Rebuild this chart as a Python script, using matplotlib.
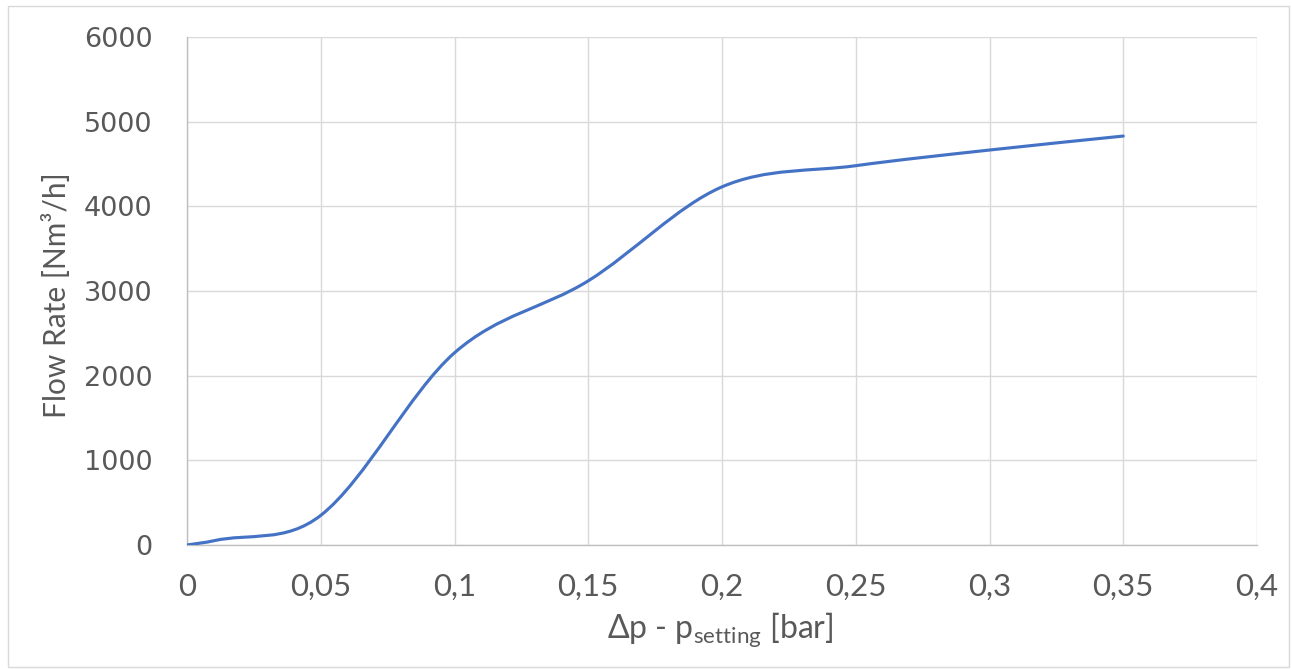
import matplotlib
matplotlib.use("Agg")
import matplotlib.pyplot as plt
from matplotlib.path import Path
from matplotlib.patches import PathPatch, Rectangle

# ---- data ----
dp = [0.0, 0.01, 0.05, 0.1, 0.15, 0.2, 0.25, 0.3, 0.35]
flow = [0, 50, 350, 2270, 3120, 4230, 4480, 4665, 4830]
x_ticks = [0, 0.05, 0.1, 0.15, 0.2, 0.25, 0.3, 0.35, 0.4]
x_tick_labels = ["0", "0,05", "0,1", "0,15", "0,2", "0,25", "0,3", "0,35", "0,4"]
y_ticks = [0, 1000, 2000, 3000, 4000, 5000, 6000]
y_tick_labels = ["0", "1000", "2000", "3000", "4000", "5000", "6000"]

plt.rcParams['mathtext.fontset'] = 'custom'
plt.rcParams['mathtext.rm'] = 'Lato'
plt.rcParams['mathtext.it'] = 'Lato:italic'

fig = plt.figure(figsize=(12.92, 6.69), dpi=100)
ax = fig.add_axes([187/1292, 1-545/669, (1257-187)/1292, (545-37)/669])

# smooth line through the points (cubic Hermite segments drawn as bezier path)
n = len(dp)
slopes = []
for i in range(n):
    a = max(i - 1, 0)
    b = min(i + 1, n - 1)
    slopes.append((flow[b] - flow[a]) / (dp[b] - dp[a]))
verts = [(dp[0], flow[0])]
codes = [Path.MOVETO]
for i in range(n - 1):
    h = dp[i+1] - dp[i]
    c1 = (dp[i] + h/3, flow[i] + slopes[i]*h/3)
    c2 = (dp[i+1] - h/3, flow[i+1] - slopes[i+1]*h/3)
    verts += [c1, c2, (dp[i+1], flow[i+1])]
    codes += [Path.CURVE4]*3
ax.add_patch(PathPatch(Path(verts, codes), facecolor='none', edgecolor='#4472C4',
                       lw=2.25, capstyle='round', zorder=3))

ax.set_xlim(0, 0.4)
ax.set_ylim(0, 6000)
ax.set_xticks(x_ticks)
ax.set_xticklabels(x_tick_labels)
ax.set_yticks(y_ticks)
ax.set_yticklabels(y_tick_labels)
ax.grid(True, color='#D9D9D9', lw=1.0)
ax.set_axisbelow(True)
for s in ['top', 'right']:
    ax.spines[s].set_visible(False)
for s in ['left', 'bottom']:
    ax.spines[s].set_color('#BFBFBF')
    ax.spines[s].set_linewidth(1.0)
ax.tick_params(axis='both', length=0, colors='#595959')
ax.tick_params(axis='y', pad=25)
ax.tick_params(axis='x', pad=20)
for lab in ax.get_yticklabels():
    lab.set_fontfamily('DejaVu Sans')
    lab.set_fontsize(19.5)
for lab in ax.get_xticklabels():
    lab.set_fontfamily('Lato')
    lab.set_fontsize(22.5)

fig.text(57/1292, 1-295/669, "Flow Rate [Nm³/h]", rotation=90, ha='center', va='center',
         fontsize=21.5, color='#595959', family='Lato')
fig.text(720/1292, 31/669, r"Δp - p$_{\mathrm{setting}}$ [bar]", ha='center', va='baseline',
         fontsize=23, color='#595959', family='Lato')

fig.patches.append(Rectangle((8/1292, 2/669), 1281/1292, 661/669, transform=fig.transFigure,
                             facecolor='none', edgecolor='#D9D9D9', lw=1.0))

fig.savefig("out.png", dpi=100)
